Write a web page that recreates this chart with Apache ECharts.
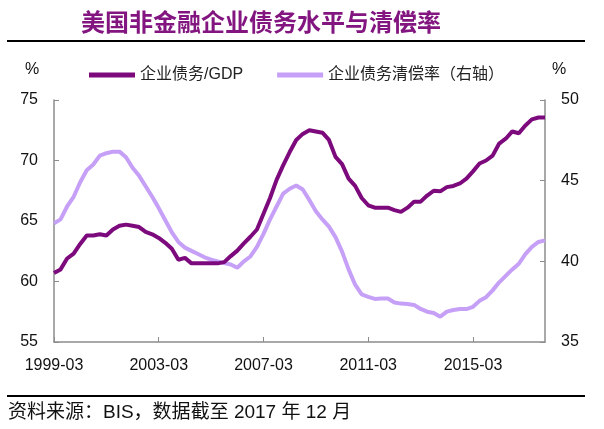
<!DOCTYPE html>
<html>
<head>
<meta charset="utf-8">
<script src="https://cdn.jsdelivr.net/npm/echarts@6/dist/echarts.min.js"></script>
<style>
html,body{margin:0;padding:0;background:#fff;}
#chart{width:604px;height:429px;}
</style>
</head>
<body>
<div id="chart"></div>
<script>
var titleText = '美国非金融企业债务水平与清偿率';
var sourceText = '资料来源：BIS，数据截至 2017 年 12 月';
var seriesNames = ['企业债务/GDP', '企业债务清偿率（右轴）'];
var categories = [
 '1999-03','1999-06','1999-09','1999-12','2000-03','2000-06','2000-09','2000-12',
 '2001-03','2001-06','2001-09','2001-12','2002-03','2002-06','2002-09','2002-12',
 '2003-03','2003-06','2003-09','2003-12','2004-03','2004-06','2004-09','2004-12',
 '2005-03','2005-06','2005-09','2005-12','2006-03','2006-06','2006-09','2006-12',
 '2007-03','2007-06','2007-09','2007-12','2008-03','2008-06','2008-09','2008-12',
 '2009-03','2009-06','2009-09','2009-12','2010-03','2010-06','2010-09','2010-12',
 '2011-03','2011-06','2011-09','2011-12','2012-03','2012-06','2012-09','2012-12',
 '2013-03','2013-06','2013-09','2013-12','2014-03','2014-06','2014-09','2014-12',
 '2015-03','2015-06','2015-09','2015-12','2016-03','2016-06','2016-09','2016-12',
 '2017-03','2017-06','2017-09','2017-12'
];
var debtToGDP = [
 60.7, 61.0, 61.9, 62.3, 63.1, 63.8, 63.8, 63.9, 63.8, 64.3,
 64.6, 64.7, 64.6, 64.5, 64.1, 63.9, 63.6, 63.2, 62.7, 61.8,
 61.95, 61.5, 61.5, 61.5, 61.5, 61.5, 61.6, 62.1, 62.55, 63.15,
 63.7, 64.3, 65.6, 66.9, 68.4, 69.6, 70.7, 71.7, 72.2, 72.5,
 72.4, 72.3, 71.7, 70.3, 69.7, 68.5, 67.9, 66.9, 66.3, 66.1,
 66.1, 66.1, 65.9, 65.75, 66.1, 66.6, 66.6, 67.1, 67.5, 67.45,
 67.8, 67.9, 68.1, 68.5, 69.1, 69.75, 70.0, 70.4, 71.4, 71.8,
 72.4, 72.25, 72.9, 73.4, 73.55, 73.55
];
var debtServiceRatio = [
 42.35, 42.6, 43.4, 44.0, 44.9, 45.65, 46.0, 46.55, 46.7, 46.8,
 46.8, 46.45, 45.8, 45.3, 44.65, 44.0, 43.3, 42.55, 41.8, 41.2,
 40.85, 40.65, 40.45, 40.25, 40.1, 40.0, 39.9, 39.8, 39.6, 40.0,
 40.3, 40.9, 41.7, 42.6, 43.4, 44.2, 44.5, 44.7, 44.45, 43.8,
 43.1, 42.6, 42.15, 41.5, 40.6, 39.5, 38.55, 37.95, 37.8, 37.67,
 37.7, 37.7, 37.45, 37.38, 37.35, 37.3, 37.05, 36.88, 36.8, 36.57,
 36.88, 36.98, 37.04, 37.04, 37.18, 37.55, 37.78, 38.2, 38.7, 39.1,
 39.5, 39.85, 40.45, 40.9, 41.2, 41.3
];

var darkColor = '#7d0a7d';
var lightColor = '#c6a0f7';
var axisColor = '#8c8c8c';
var latin = 'Liberation Sans, Arial, sans-serif';
var cjk = 'Liberation Sans, "Noto Sans CJK SC", sans-serif';

var chart = echarts.init(document.getElementById('chart'), null, {renderer: 'canvas'});
var option = {
  backgroundColor: '#ffffff',
  animation: false,
  title: {
    text: titleText,
    left: 76,
    top: 5,
    textStyle: {fontSize: 24, fontWeight: 'bold', color: '#82157f', fontFamily: '"Noto Sans CJK SC", sans-serif'}
  },
  legend: {
    left: 84,
    top: 62,
    itemGap: 34,
    itemWidth: 46,
    itemHeight: 5,
    icon: 'rect',
    textStyle: {fontSize: 16, color: '#222', fontFamily: cjk},
    data: seriesNames
  },
  grid: {left: 54, right: 59, top: 100, bottom: 87},
  xAxis: {
    type: 'category',
    data: categories,
    boundaryGap: false,
    axisLine: {lineStyle: {color: axisColor, width: 1.5}},
    axisTick: {inside: true, length: 5, interval: 15, lineStyle: {color: axisColor}},
    axisLabel: {interval: 15, margin: 16, fontSize: 16, color: '#111', fontFamily: latin},
    splitLine: {show: false}
  },
  yAxis: [
    {
      type: 'value', min: 55, max: 75, interval: 5,
      axisLine: {show: true, lineStyle: {color: axisColor, width: 1.5}},
      axisTick: {show: true, inside: true, length: 5, lineStyle: {color: axisColor}},
      axisLabel: {margin: 16, fontSize: 16, color: '#111', fontFamily: latin},
      splitLine: {show: false}
    },
    {
      type: 'value', min: 35, max: 50, interval: 5, position: 'right',
      axisLine: {show: true, lineStyle: {color: axisColor, width: 1.5}},
      axisTick: {show: true, inside: true, length: 5, lineStyle: {color: axisColor}},
      axisLabel: {margin: 16, fontSize: 16, color: '#111', fontFamily: latin},
      splitLine: {show: false}
    }
  ],
  series: [
    {
      name: seriesNames[0], type: 'line', yAxisIndex: 0,
      data: debtToGDP, showSymbol: false, symbol: 'none',
      lineStyle: {color: darkColor, width: 4}, itemStyle: {color: darkColor}, z: 3
    },
    {
      name: seriesNames[1], type: 'line', yAxisIndex: 1,
      data: debtServiceRatio, showSymbol: false, symbol: 'none',
      lineStyle: {color: lightColor, width: 4}, itemStyle: {color: lightColor}, z: 2
    }
  ],
  graphic: [
    {type: 'line', shape: {x1: 7, y1: 41, x2: 585, y2: 41}, style: {stroke: '#000', lineWidth: 2}},
    {type: 'line', shape: {x1: 7, y1: 396, x2: 585, y2: 396}, style: {stroke: '#000', lineWidth: 2}},
    {type: 'text', x: 32, y: 70, style: {text: '%', fill: '#111', font: '16px Liberation Sans', textAlign: 'center', textVerticalAlign: 'middle'}},
    {type: 'text', x: 559, y: 70, style: {text: '%', fill: '#111', font: '16px Liberation Sans', textAlign: 'center', textVerticalAlign: 'middle'}},
    {type: 'text', x: 8, y: 413, style: {text: sourceText, fill: '#111', font: '19px Liberation Sans, "Noto Sans CJK SC", sans-serif', textAlign: 'left', textVerticalAlign: 'middle'}}
  ]
};
chart.setOption(option);
</script>
</body>
</html>
